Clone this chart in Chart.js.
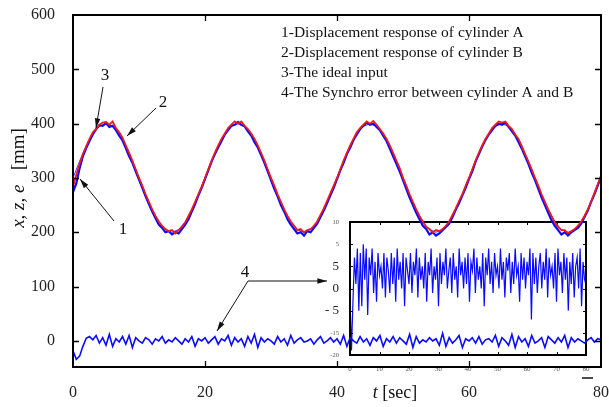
<!DOCTYPE html>
<html>
<head>
<meta charset="utf-8">
<script src="https://cdn.jsdelivr.net/npm/chart.js@4.4.0/dist/chart.umd.min.js"></script>
<style>
  body { margin: 0; background: #fff; }
  #wrap { position: relative; width: 609px; height: 407px; }
  #inset { position: absolute; left: 325px; top: 215px; }
  #main { position: absolute; left: 0; top: 0; }
</style>
</head>
<body>
<div id="wrap">
  <canvas id="inset" width="270" height="160"></canvas>
  <canvas id="main" width="609" height="407"></canvas>
</div>
<script>
// time grid, sec (0.5 s samples for the measured traces, 1 s for the ideal input)
const timeHalf = Array.from({ length: 161 }, (_, i) => i / 2);
const timeSec = Array.from({ length: 81 }, (_, i) => i);

// 1 - displacement response of cylinder A (mm)
const cylA = [
  274,290,318,340,355,368,380,390,397,396,401,394,396,388,378,369,355,340,328,312,
  297,282,266,252,238,226,214,208,200,202,196,200,198,206,214,224,238,252,268,282,
  298,314,330,344,356,368,380,388,396,398,403,398,395,386,378,366,356,342,328,312,
  296,280,266,250,238,224,214,206,198,200,194,202,200,208,216,228,240,254,268,282,
  298,314,328,344,356,370,380,390,396,402,398,400,394,388,378,368,354,340,326,312,
  296,280,264,250,236,224,212,206,196,200,194,198,204,210,216,228,242,254,268,282,
  298,312,330,344,358,370,380,388,396,400,398,402,394,386,378,366,354,340,326,310,
  296,280,264,250,236,222,212,204,196,200,194,200,204,208,216,228,240,256,270,286,
  302
];

// 2 - displacement response of cylinder B (mm)
const cylB = [
  284,306,326,344,358,372,384,390,398,402,403,398,404,392,384,374,360,346,332,316,
  300,286,270,256,242,230,220,212,206,202,204,198,204,210,218,230,242,256,270,284,
  300,316,332,346,360,372,382,392,398,404,400,404,396,390,382,372,360,346,332,316,
  300,286,270,256,242,230,220,212,204,206,200,204,206,212,220,232,244,258,272,286,
  300,316,332,346,360,372,384,392,398,404,400,405,398,390,382,372,360,346,332,318,
  300,286,270,256,242,230,220,210,206,200,204,202,206,212,220,232,244,258,270,286,
  300,316,332,346,360,372,382,392,398,404,402,404,396,390,380,372,358,344,330,316,
  300,286,270,256,242,230,218,210,204,204,198,202,206,212,220,230,242,256,272,288,
  304
];

// 3 - ideal input (mm), 1 s samples
const idealInput = [
  300,331,359,381,395,400,395,381,359,331,300,269,241,219,205,200,205,219,241,269,
  300,331,359,381,395,400,395,381,359,331,300,269,241,219,205,200,205,219,241,269,
  300,331,359,381,395,400,395,381,359,331,300,269,241,219,205,200,205,219,241,269,
  300,331,359,381,395,400,395,381,359,331,300,269,241,219,205,200,205,219,241,269,
  300
];

// 4 - synchro error between A and B (mm)
const syncError = [
  -18,-34,-28,-10,5,8,2,10,-4,6,-8,12,-10,4,-2,8,-6,10,-12,6,
  0,-4,6,2,-6,4,0,8,-4,2,-2,6,0,-6,4,-2,8,-10,4,0,
  6,-4,2,8,-6,4,0,10,-8,6,-2,4,-10,8,-4,12,-12,6,-2,4,
  0,-6,8,-2,4,-8,10,-4,2,6,-2,0,4,-6,2,8,-4,0,6,-2,
  4,-6,10,-10,6,0,-4,8,-2,4,-8,6,0,10,-10,4,-2,8,-4,6,
  0,-6,12,-12,8,-4,2,-2,6,0,4,-8,14,-10,6,-4,2,10,-12,4,
  0,6,-4,8,-6,2,4,-2,10,-10,6,0,-8,12,-12,8,-2,4,-10,10,
  -4,0,6,-12,8,2,-4,6,-2,10,-12,6,-2,4,0,-4,2,6,-2,4,
  2
];

// inset: zoomed synchro error
const insetError = [
  -7,-19,-8,2,-4,4,-10,3,-9,5,-3,4,-11,2,-2,4,-6,1,-8,3,
  -2,0,-5,3,-7,2,-1,-6,3,-4,2,-8,4,-3,1,-5,3,-9,2,-1,
  -4,3,-6,1,-2,4,-7,2,-3,0,-5,3,-8,1,-2,4,-6,0,-3,2,
  -9,3,-4,1,-2,4,-5,-1,2,-6,3,-3,0,-7,4,-2,1,-5,2,-4,
  3,-8,1,-1,4,-6,2,-3,0,-5,3,-9,2,-2,4,-4,1,-6,3,-2,
  0,-5,4,-3,1,-7,2,-1,3,-6,1,-4,4,-2,0,-8,3,-3,2,-5,
  1,-2,4,-12,3,-4,2,-6,0,3,-5,1,-3,4,-7,2,-2,0,-5,3,
  -8,4,-2,1,-6,3,-3,2,-10,1,-4,3,-7,0,2,-5,4,-9,1,-3,
  -4
];

const mainXTicks = [0, 20, 40, 60, 80];
const mainYTicks = [0, 100, 200, 300, 400, 500, 600];
const insetXTicks = [0, 10, 20, 30, 40, 50, 60, 70, 80];
const insetYTicks = [-20, -15, -10, -5, 0, 5, 10];
const insetYTickLabels = ['-20', '-15', '- 5', '0', '5', '5', '10'];
const insetYBig = [false, false, true, true, true, false, false];

const legendLines = [
  '1-Displacement response of cylinder A',
  '2-Displacement response of cylinder B',
  '3-The ideal input',
  '4-The Synchro error between cylinder A and B'
];

const SERIF = '"Liberation Serif", "DejaVu Serif", serif';

function pts(xs, ys) {
  return ys.map((v, i) => ({ x: xs[i], y: v }));
}

// box + inward ticks on all four sides
const framePlugin = {
  id: 'frame',
  afterDatasetsDraw(chart, args, opts) {
    const { ctx, chartArea: a, scales } = chart;
    ctx.save();
    ctx.strokeStyle = '#000';
    ctx.lineWidth = opts.tickWidth;
    ctx.beginPath();
    scales.x.ticks.forEach(t => {
      const px = Math.round(scales.x.getPixelForValue(t.value)) + 0.5;
      if (px <= a.left + 1 || px >= a.right - 1) return;
      ctx.moveTo(px, a.bottom); ctx.lineTo(px, a.bottom - opts.len);
      ctx.moveTo(px, a.top); ctx.lineTo(px, a.top + opts.len);
    });
    scales.y.ticks.forEach(t => {
      const py = Math.round(scales.y.getPixelForValue(t.value)) + 0.5;
      if (py <= a.top + 1 || py >= a.bottom - 1) return;
      ctx.moveTo(a.left, py); ctx.lineTo(a.left + opts.len, py);
      ctx.moveTo(a.right, py); ctx.lineTo(a.right - opts.len, py);
    });
    ctx.stroke();
    ctx.lineWidth = opts.width;
    ctx.strokeRect(a.left, a.top, a.right - a.left, a.bottom - a.top);
    ctx.restore();
  }
};

function arrow(ctx, x1, y1, x2, y2) {
  const ang = Math.atan2(y2 - y1, x2 - x1);
  ctx.beginPath();
  ctx.moveTo(x1, y1);
  ctx.lineTo(x2, y2);
  ctx.stroke();
  ctx.beginPath();
  ctx.moveTo(x2, y2);
  ctx.lineTo(x2 - 10 * Math.cos(ang - 0.28), y2 - 10 * Math.sin(ang - 0.28));
  ctx.lineTo(x2 - 10 * Math.cos(ang + 0.28), y2 - 10 * Math.sin(ang + 0.28));
  ctx.closePath();
  ctx.fill();
}

// titles, legend text and numbered arrows
const notesPlugin = {
  id: 'notes',
  afterDraw(chart) {
    const ctx = chart.ctx;
    ctx.save();
    ctx.fillStyle = '#111';
    ctx.strokeStyle = '#111';
    ctx.textBaseline = 'middle';

    // y title
    ctx.save();
    ctx.translate(19, 178);
    ctx.rotate(-Math.PI / 2);
    const p1 = 'x, z, e', p2 = '   [mm]';
    ctx.font = 'italic 19px ' + SERIF;
    const w1 = ctx.measureText(p1).width;
    ctx.font = '19px ' + SERIF;
    const w2 = ctx.measureText(p2).width;
    const x0 = -(w1 + w2) / 2;
    ctx.font = 'italic 19px ' + SERIF;
    ctx.fillText(p1, x0, 0);
    ctx.font = '19px ' + SERIF;
    ctx.fillText(p2, x0 + w1, 0);
    ctx.restore();

    // x title
    ctx.font = 'italic 18px ' + SERIF;
    const tw = ctx.measureText('t').width;
    ctx.font = '18px ' + SERIF;
    const sw = ctx.measureText(' [sec]').width;
    let tx = 395 - (tw + sw) / 2;
    ctx.font = 'italic 18px ' + SERIF;
    ctx.fillText('t', tx, 393);
    ctx.font = '18px ' + SERIF;
    ctx.fillText(' [sec]', tx + tw, 393);

    // legend text
    ctx.font = '15.5px ' + SERIF;
    legendLines.forEach((s, i) => ctx.fillText(s, 281, 32.5 + i * 20.2));

    // numbered pointers
    ctx.font = '17px ' + SERIF;
    ctx.textAlign = 'center';
    ctx.fillText('3', 105, 76);
    ctx.fillText('2', 163, 103);
    ctx.fillText('1', 123, 230);
    ctx.fillText('4', 245, 273);
    ctx.lineWidth = 1;
    arrow(ctx, 103, 87, 96, 128);
    arrow(ctx, 156, 108, 127, 136);
    arrow(ctx, 114, 221, 80, 179);
    arrow(ctx, 248, 281, 327, 281);
    arrow(ctx, 248, 281, 217, 331);

    // stray dash next to the last x label
    ctx.lineWidth = 1.5;
    ctx.beginPath();
    ctx.moveTo(582, 378);
    ctx.lineTo(593, 378);
    ctx.stroke();
    ctx.restore();
  }
};

function noPad(s) {
  s.paddingLeft = 0; s.paddingRight = 0; s.paddingTop = 0; s.paddingBottom = 0;
}

new Chart(document.getElementById('main'), {
  type: 'line',
  data: {
    datasets: [
      { label: '2', data: pts(timeHalf, cylB), borderColor: '#f01818', borderWidth: 1.8, order: 0 },
      { label: '1', data: pts(timeHalf, cylA), borderColor: '#0a0aff', borderWidth: 2.2, order: 1 },
      { label: '3', data: pts(timeSec, idealInput), borderColor: '#4040ff', borderWidth: 1, order: 2 },
      { label: '4', data: pts(timeHalf, syncError), borderColor: '#0a0aff', borderWidth: 1.6, order: 3 }
    ]
  },
  options: {
    responsive: false,
    animation: false,
    layout: { padding: { top: 15, right: 8, left: 0, bottom: 0 } },
    elements: { point: { radius: 0 }, line: { tension: 0 } },
    plugins: {
      legend: { display: false },
      tooltip: { enabled: false },
      frame: { width: 2, tickWidth: 1.3, len: 6 }
    },
    scales: {
      x: {
        type: 'linear', min: 0, max: 80,
        afterBuildTicks: s => { s.ticks = mainXTicks.map(v => ({ value: v })); },
        afterFit: s => { s.height = 40; noPad(s); },
        grid: { display: false },
        border: { display: false },
        ticks: { font: { family: SERIF, size: 16 }, color: '#222', padding: 8, maxRotation: 0 }
      },
      y: {
        type: 'linear', min: -48, max: 600,
        afterBuildTicks: s => { s.ticks = mainYTicks.map(v => ({ value: v })); },
        afterFit: s => { s.width = 73; noPad(s); },
        grid: { display: false },
        border: { display: false },
        ticks: { font: { family: SERIF, size: 16 }, color: '#222', padding: 10 }
      }
    }
  },
  plugins: [framePlugin, notesPlugin]
});

new Chart(document.getElementById('inset'), {
  type: 'line',
  data: {
    datasets: [
      { label: 'inset', data: pts(timeHalf, insetError), borderColor: '#0a0aff', borderWidth: 1.2 }
    ]
  },
  options: {
    responsive: false,
    animation: false,
    layout: { padding: { top: 7, right: 9, left: 0, bottom: 0 } },
    elements: { point: { radius: 0 }, line: { tension: 0 } },
    plugins: {
      legend: { display: false },
      tooltip: { enabled: false },
      frame: { width: 2, tickWidth: 1, len: 3 }
    },
    scales: {
      x: {
        type: 'linear', min: 0, max: 80,
        afterBuildTicks: s => { s.ticks = insetXTicks.map(v => ({ value: v })); },
        afterFit: s => { s.height = 20; noPad(s); },
        grid: { display: false },
        border: { display: false },
        ticks: { font: { family: SERIF, size: 7 }, color: '#555', padding: 2, maxRotation: 0 }
      },
      y: {
        type: 'linear', min: -20, max: 10,
        afterBuildTicks: s => { s.ticks = insetYTicks.map(v => ({ value: v })); },
        afterFit: s => { s.width = 25; noPad(s); },
        grid: { display: false },
        border: { display: false },
        ticks: {
          padding: 3,
          callback: (v, i) => insetYTickLabels[i],
          font: c => ({ family: SERIF, size: insetYBig[c.index] ? 13 : 6.5 }),
          color: c => insetYBig[c.index] ? '#222' : '#555'
        }
      }
    }
  },
  plugins: [framePlugin]
});
</script>
</body>
</html>
